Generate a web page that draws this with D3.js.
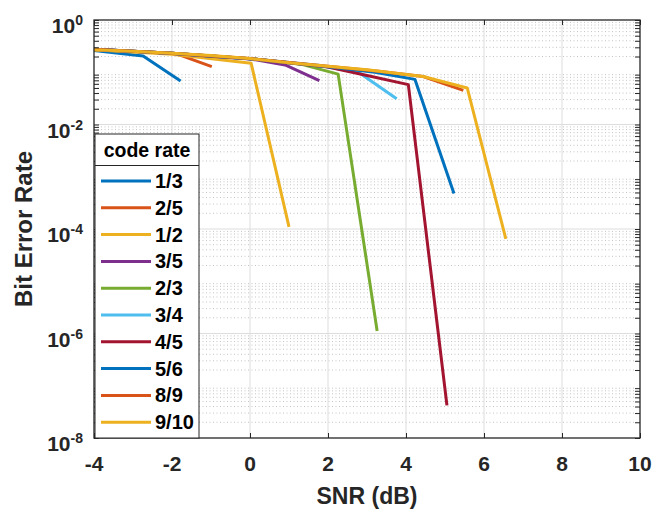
<!DOCTYPE html>
<html>
<head>
<meta charset="utf-8">
<script src="https://cdn.jsdelivr.net/npm/d3@7/dist/d3.min.js"></script>
<style>
  html, body { margin: 0; padding: 0; background: #fff; }
  svg { display: block; font-family: "Liberation Sans", Arial, sans-serif; }
</style>
</head>
<body>
<svg id="chart" width="667" height="513"></svg>
<script>
// ---------- data ----------
const codeRates = ["1/3", "2/5", "1/2", "3/5", "2/3", "3/4", "4/5", "5/6", "8/9", "9/10"];
const seriesColors = ["#0072BD", "#D95319", "#EDB120", "#7E2F8E", "#77AC30",
                      "#4DBEEE", "#A2142F", "#0072BD", "#D95319", "#EDB120"];

// SNR (dB) points and BER for each code rate
const snr_1_3  = [-4, -2.74, -1.78];
const ber_1_3  = [0.26, 0.204, 0.068];
const snr_2_5  = [-4, -2.9, -1.9, -0.98];
const ber_2_5  = [0.27, 0.25, 0.228, 0.128];
const snr_1_2  = [-4, -2, 0.03, 1.0];
const ber_1_2  = [0.27, 0.222, 0.148, 1.1e-4];
const snr_3_5  = [-4, -2, 0, 0.9, 1.78];
const ber_3_5  = [0.275, 0.228, 0.18, 0.138, 0.069];
const snr_2_3  = [-4, -2, 0, 1.3, 2.26, 3.26];
const ber_2_3  = [0.275, 0.23, 0.182, 0.143, 0.092, 1.12e-6];
const snr_3_4  = [-4, -2, 0, 1.8, 2.8, 3.76];
const ber_3_4  = [0.275, 0.23, 0.182, 0.135, 0.098, 0.031];
const snr_4_5  = [-4, -2, 0, 2.0, 3.06, 4.06, 5.05];
const ber_4_5  = [0.275, 0.23, 0.182, 0.126, 0.085, 0.058, 4.2e-8];
const snr_5_6  = [-4, -2, 0, 2.0, 3.2, 4.23, 5.23];
const ber_5_6  = [0.275, 0.23, 0.182, 0.128, 0.1, 0.073, 4.8e-4];
const snr_8_9  = [-4, -2, 0, 2.0, 3.3, 4.44, 5.47];
const ber_8_9  = [0.275, 0.232, 0.183, 0.13, 0.105, 0.083, 0.045];
const snr_9_10 = [-4, -3, -2, -1, 0, 1, 2, 3, 4.44, 5.57, 6.56];
const ber_9_10 = [0.27, 0.252, 0.232, 0.21, 0.183, 0.152, 0.13, 0.112, 0.083, 0.05, 6.5e-5];

const snrSets = [snr_1_3, snr_2_5, snr_1_2, snr_3_5, snr_2_3, snr_3_4, snr_4_5, snr_5_6, snr_8_9, snr_9_10];
const berSets = [ber_1_3, ber_2_5, ber_1_2, ber_3_5, ber_2_3, ber_3_4, ber_4_5, ber_5_6, ber_8_9, ber_9_10];

const xTicks = [-4, -2, 0, 2, 4, 6, 8, 10];
const yTickExps = [0, -2, -4, -6, -8];

const xLabel = "SNR (dB)";
const yLabel = "Bit Error Rate";
const legendTitle = "code rate";

// ---------- layout ----------
const svg = d3.select("#chart");
const L = 94, R = 640, T = 20, B = 438;
const axisColor = "#262626";

const x = d3.scaleLinear().domain([-4, 10]).range([L, R]);
const y = d3.scaleLog().domain([1e-8, 1]).range([B, T]);

// ---------- grid ----------
const grid = svg.append("g");
const minorVals = [];
for (let e = -8; e < 0; e++) for (let m = 2; m <= 9; m++) minorVals.push(m * Math.pow(10, e));
grid.selectAll("line.minor").data(minorVals).enter().append("line")
  .attr("x1", L).attr("x2", R)
  .attr("y1", d => y(d)).attr("y2", d => y(d))
  .attr("stroke", "#c4c4c4").attr("stroke-width", 1)
  .attr("stroke-dasharray", "1,2.5");
grid.selectAll("line.mx").data(xTicks.slice(1, -1)).enter().append("line")
  .attr("x1", d => x(d)).attr("x2", d => x(d)).attr("y1", T).attr("y2", B)
  .attr("stroke", "#dddddd").attr("stroke-width", 1);
grid.selectAll("line.my").data(yTickExps.slice(1, -1)).enter().append("line")
  .attr("x1", L).attr("x2", R)
  .attr("y1", d => y(Math.pow(10, d))).attr("y2", d => y(Math.pow(10, d)))
  .attr("stroke", "#dddddd").attr("stroke-width", 1);

// ---------- lines ----------
const line = d3.line().x(d => x(d[0])).y(d => y(d[1]));
const plot = svg.append("g");
codeRates.forEach((r, i) => {
  const pts = snrSets[i].map((s, k) => [s, berSets[i][k]]);
  plot.append("path").datum(pts)
    .attr("d", line)
    .attr("fill", "none")
    .attr("stroke", seriesColors[i])
    .attr("stroke-width", 3)
    .attr("stroke-linejoin", "round");
});

// ---------- axes (box with inward ticks) ----------
const ax = svg.append("g");
const tickLen = 5;
const xAxisB = d3.axisBottom(x).tickValues(xTicks).tickSizeInner(-tickLen).tickSizeOuter(0).tickFormat("");
const xAxisT = d3.axisTop(x).tickValues(xTicks).tickSizeInner(-tickLen).tickSizeOuter(0).tickFormat("");
const yAll = yTickExps.map(e => Math.pow(10, e)).concat(minorVals);
const yAxisL = d3.axisLeft(y).tickValues(yAll).tickSizeInner(-tickLen).tickSizeOuter(0).tickFormat("");
const yAxisR = d3.axisRight(y).tickValues(yAll).tickSizeInner(-tickLen).tickSizeOuter(0).tickFormat("");
[ [xAxisB, `translate(0,${B})`], [xAxisT, `translate(0,${T})`],
  [yAxisL, `translate(${L},0)`], [yAxisR, `translate(${R},0)`] ].forEach(([a, tr]) => {
  const g = ax.append("g").attr("transform", tr).call(a);
  g.select(".domain").remove();
  g.selectAll("line").attr("stroke", axisColor).attr("stroke-width", 1);
});
ax.append("rect").attr("x", L).attr("y", T).attr("width", R - L).attr("height", B - T)
  .attr("fill", "none").attr("stroke", axisColor).attr("stroke-width", 1.3);

// tick labels
svg.append("g").selectAll("text").data(xTicks).enter().append("text")
  .attr("x", d => x(d)).attr("y", 471)
  .attr("text-anchor", "middle")
  .attr("font-size", 21).attr("font-weight", "bold").attr("fill", axisColor)
  .text(d => d);

const yl = svg.append("g").selectAll("text").data(yTickExps).enter().append("text")
  .attr("x", 83).attr("y", d => y(Math.pow(10, d)) + 13)
  .attr("text-anchor", "end")
  .attr("font-size", 21).attr("font-weight", "bold").attr("fill", axisColor);
yl.append("tspan").text("10");
yl.append("tspan").attr("dy", -8).attr("font-size", 14).text(d => d);

// axis labels
svg.append("text").attr("x", (L + R) / 2).attr("y", 504)
  .attr("text-anchor", "middle").attr("font-size", 23).attr("font-weight", "bold")
  .attr("fill", axisColor).text(xLabel);
svg.append("text").attr("transform", `translate(32,${(T + B) / 2}) rotate(-90)`)
  .attr("text-anchor", "middle").attr("font-size", 24).attr("font-weight", "bold")
  .attr("fill", axisColor).text(yLabel);

// ---------- legend ----------
const lg = svg.append("g");
const lx = 95, ly = 134, lw = 104, lh = 304, titleH = 31.5;
lg.append("rect").attr("x", lx).attr("y", ly).attr("width", lw).attr("height", lh)
  .attr("fill", "#fff").attr("stroke", axisColor).attr("stroke-width", 1);
lg.append("line").attr("x1", lx).attr("x2", lx + lw).attr("y1", ly + titleH).attr("y2", ly + titleH)
  .attr("stroke", axisColor).attr("stroke-width", 1);
lg.append("text").attr("x", lx + lw / 2).attr("y", ly + 23)
  .attr("text-anchor", "middle").attr("font-size", 19.5).attr("font-weight", "bold")
  .attr("fill", "#000").text(legendTitle);
codeRates.forEach((r, i) => {
  const yy = 181 + i * 26.8;
  lg.append("line").attr("x1", 101).attr("x2", 151).attr("y1", yy).attr("y2", yy)
    .attr("stroke", seriesColors[i]).attr("stroke-width", 3);
  lg.append("text").attr("x", 155).attr("y", yy + 7)
    .attr("font-size", 20).attr("font-weight", "bold").attr("fill", "#000").text(r);
});
</script>
</body>
</html>
